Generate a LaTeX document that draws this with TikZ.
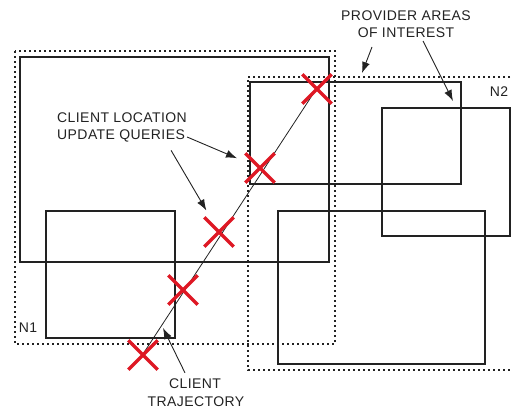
\documentclass[tikz,border=0pt]{standalone}
\usepackage{fontspec}
\setmainfont{Liberation Sans}[LetterSpace=3]
\usetikzlibrary{arrows.meta,shapes.misc,calc}
\definecolor{ink}{RGB}{34,34,34}
\definecolor{hitred}{RGB}{222,24,36}
\begin{document}
\begin{tikzpicture}[x=1pt,y=-1pt,
  box/.style={draw=ink,line width=1.3pt},
  zone/.style={draw=ink,line width=1.4pt,dash pattern=on 2pt off 3pt},
  track/.style={draw=ink,line width=0.8pt},
  xmark/.style={cross out,draw=hitred,line width=3.4pt,minimum size=26pt,inner sep=0pt},
  lbl/.style={text=ink,font=\fontsize{14}{16}\selectfont,inner sep=0pt},
  arr/.style={draw=ink,line width=0.9pt,-{Latex[length=11pt,width=8pt]}}]
\useasboundingbox (0,0) rectangle (511,414);

% provider areas of interest
\draw[box] (20,57) rectangle (329,262);
\draw[box] (46,211) rectangle (175,338);
\draw[box] (250,82) rectangle (461,184);
\draw[box] (382,108) rectangle (510,236);
\draw[box] (278,211) rectangle (485,364);

% network regions
\draw[zone] (15,51) rectangle (335,344);
\draw[zone] (515,77) -- (248,77) -- (248,370) -- (515,370);
\node[lbl] (n1) at (28,328) {N1};
\node[lbl] (n2) at (499,92) {N2};

% client trajectory and location updates
\coordinate (t0) at (143,354);
\coordinate (t1) at (315,91);
\draw[track] (t0) -- (t1);
\node[xmark] (c1) at (143,355) {};
\node[xmark] (c2) at (183,290) {};
\node[xmark] (c3) at (219,232) {};
\node[xmark] (c4) at (260,168) {};
\node[xmark] (c5) at (317,89) {};

% labels
\node[lbl,anchor=west] (q1) at (57,118) {CLIENT LOCATION};
\node[lbl,anchor=west] (q2) at (57,136) {UPDATE QUERIES};
\node[lbl] (p1) at (406,16) {PROVIDER AREAS};
\node[lbl] (p2) at (406,33) {OF INTEREST};
\node[lbl] (ct1) at (195,384) {CLIENT};
\node[lbl] (ct2) at (196,402) {TRAJECTORY};

% pointers
\draw[arr,shorten >=25pt] ($(q2.east)+(2,1)$) -- (c4.center);
\draw[arr,shorten >=25pt] ($(q2.south east)+(-14,8)$) -- (c3.center);
\coordinate (zt) at (362,73);
\coordinate (at) at (453,101);
\coordinate (tt) at (163,328);
\draw[arr] (372,47) -- (zt);
\draw[arr] (423,41) -- (at);
\draw[arr] ($(ct1.north)+(-10,-6)$) -- (tt);
\end{tikzpicture}
\end{document}
